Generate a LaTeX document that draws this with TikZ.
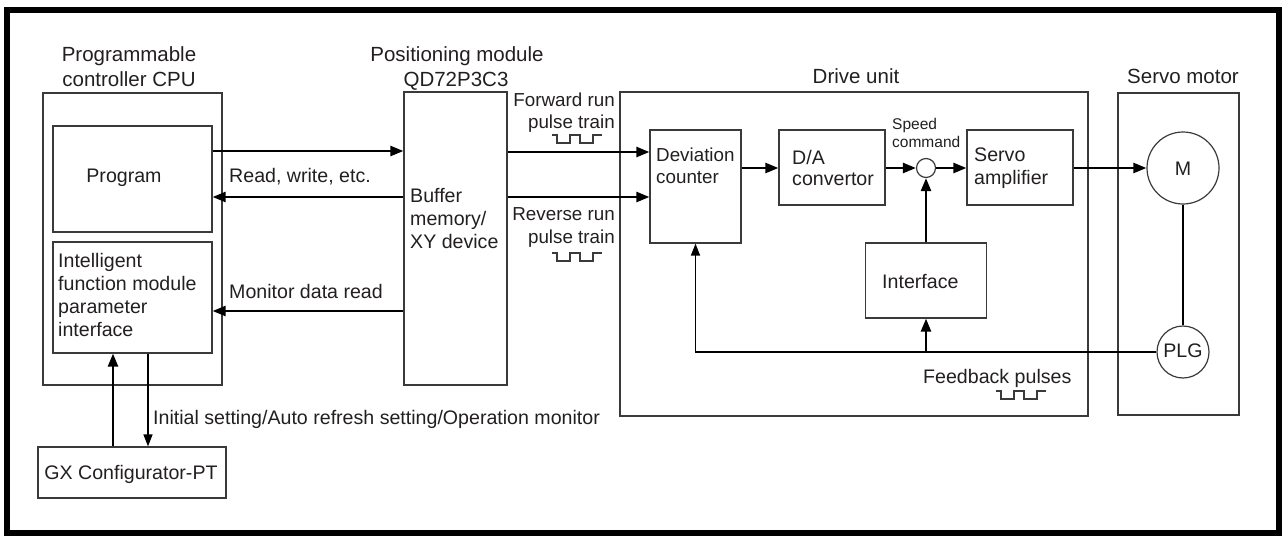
\documentclass[tikz,border=0pt]{standalone}
\usepackage{fontspec}
\setmainfont{Liberation Sans}
\usetikzlibrary{arrows.meta}
\definecolor{ink}{HTML}{231F20}
\definecolor{edge}{HTML}{3A3A3A}
\newcommand\pulsetrain[2]{%
  \draw[edge,line width=1.1pt] (#1,#2) -- ++(5,0) -- ++(0,8) -- ++(13,0) -- ++(0,-8) -- ++(10,0) -- ++(0,8) -- ++(13,0) -- ++(0,-8) -- ++(9,0);}
\begin{document}
\begin{tikzpicture}[x=1pt,y=-1pt,
  box/.style={draw=edge,line width=1.2pt,rectangle,inner sep=0pt},
  circ/.style={draw=edge,line width=1.2pt,circle,inner sep=0pt},
  txt/.style={text=ink,inner sep=0pt,font=\fontsize{19.6}{23}\selectfont,text height=15pt,text depth=3.5pt},
  ntxt/.style={txt,font=\fontsize{18.8}{23}\selectfont},
  ttl/.style={text=ink,inner sep=0pt,font=\fontsize{20.5}{25}\selectfont,text height=16pt,text depth=4pt},
  small/.style={text=ink,inner sep=0pt,font=\fontsize{15.5}{18}\selectfont,text height=12pt,text depth=3pt},
  thickarr/.style={draw=black,line width=2.4pt,-{Triangle[length=13pt,width=10pt]}},
  thinarr/.style={draw=black,line width=1.4pt,-{Triangle[length=12pt,width=9pt]}},
  thickline/.style={draw=black,line width=2.4pt},
  thinline/.style={draw=black,line width=1.4pt}]
\useasboundingbox (0,0) rectangle (1284,538);
\draw[black,line width=6pt] (7,10) rectangle (1279,533);

% level coordinates
\coordinate (y151) at (0,151);
\coordinate (y152) at (0,152);
\coordinate (y197) at (0,197);
\coordinate (y168) at (0,168);
\coordinate (y311) at (0,311);
\coordinate (x113) at (113,0);
\coordinate (x148) at (148,0);

% boxes
\node[box,minimum width=179pt,minimum height=292pt] (cpu) at (132.5,239) {};
\node[box,minimum width=159pt,minimum height=106pt] (prog) at (132.5,179) {};
\node[box,minimum width=159pt,minimum height=111pt] (intel) at (132.5,297.5) {};
\node[box,minimum width=188pt,minimum height=51pt] (gx) at (132,472.5) {};
\node[box,minimum width=103pt,minimum height=293pt] (buf) at (455.5,238.5) {};
\node[box,minimum width=468pt,minimum height=324pt] (drive) at (854,254) {};
\node[box,minimum width=91pt,minimum height=113pt] (dev) at (695.5,186.5) {};
\node[box,minimum width=106pt,minimum height=75pt] (da) at (832,167.5) {};
\node[circ,minimum size=19pt] (sum) at (926,168) {};
\node[box,minimum width=106pt,minimum height=75pt] (amp) at (1020,167.5) {};
\node[box,minimum width=121pt,minimum height=75pt] (intf) at (926,280.5) {};
\node[box,minimum width=121pt,minimum height=322pt] (motor) at (1178.5,254) {};
\node[circ,minimum size=72pt] (M) at (1183,168) {};
\node[circ,minimum size=52pt] (PLG) at (1183,352) {};

% titles
\node[ttl] (t1a) at (129,55) {Programmable};
\node[ttl] (t1b) at (129,80) {controller CPU};
\node[ttl] (t2a) at (457,55) {Positioning module};
\node[ttl] (t2b) at (456,80) {QD72P3C3};
\node[ttl] (t3) at (856,77) {Drive unit};
\node[ttl] (t4) at (1183,77) {Servo motor};

% texts
\node[txt] (lprog) at (124,177) {Program};
\node[txt,anchor=west] (lrw) at (229,177) {Read, write, etc.};
\node[txt,anchor=west] (lmon) at (229,293) {Monitor data read};
\node[txt,anchor=west] (li1) at (58,262) {Intelligent};
\node[txt,anchor=west] (li2) at (58,285) {function module};
\node[txt,anchor=west] (li3) at (58,308) {parameter};
\node[txt,anchor=west] (li4) at (58,331) {interface};
\node[txt,anchor=west] (lb1) at (410,197) {Buffer};
\node[txt,anchor=west] (lb2) at (410,220) {memory/};
\node[txt,anchor=west] (lb3) at (410,243) {XY device};
\node[ntxt,anchor=east] (lf1) at (615,101) {Forward run};
\node[ntxt,anchor=east] (lf2) at (615,123) {pulse train};
\node[ntxt,anchor=east] (lr1) at (615,215) {Reverse run};
\node[ntxt,anchor=east] (lr2) at (615,238) {pulse train};
\node[ntxt,anchor=west] (ld1) at (656,156) {Deviation};
\node[ntxt,anchor=west] (ld2) at (656,178) {counter};
\node[txt,anchor=west] (lda1) at (792,159) {D/A};
\node[txt,anchor=west] (lda2) at (792,180) {convertor};
\node[txt,anchor=west] (la1) at (974,156) {Servo};
\node[txt,anchor=west] (la2) at (974,179) {amplifier};
\node[small,anchor=west] (ls1) at (892,125) {Speed};
\node[small,anchor=west] (ls2) at (892,143) {command};
\node[txt,anchor=west] (lif) at (882,283) {Interface};
\node[txt] (lM) at (1183,170) {M};
\node[txt] (lPLG) at (1183,352) {PLG};
\node[txt,anchor=west] (lfb) at (923,378) {Feedback pulses};
\node[txt,anchor=west] (linit) at (153,419) {Initial setting/Auto refresh setting/Operation monitor};
\node[txt] (lgx) at (131,474) {GX Configurator-PT};

% pulse glyphs
\pulsetrain{552}{135}
\pulsetrain{552}{253}
\pulsetrain{996}{391}

% connectors
\draw[thickarr] (prog.east |- y151) -- (buf.west |- y151);
\draw[thickarr] (buf.west |- y197) -- (prog.east |- y197);
\draw[thickarr] (buf.west |- y311) -- (intel.east |- y311);
\draw[thickarr] (buf.east |- y152) -- (dev.west |- y152);
\draw[thickarr] (buf.east |- y197) -- (dev.west |- y197);
\draw[thickarr] (dev.east |- y168) -- (da.west |- y168);
\draw[thickarr] (da.east |- sum.west) -- (sum.west);
\draw[thickarr] (sum.east) -- (amp.west |- sum.east);
\draw[thickarr] (intf.north -| sum.south) -- (sum.south);
\draw[thickarr] (amp.east |- M.west) -- (M.west);
\draw[thickline] (M.south) -- (PLG.north);
\draw[thinarr] (PLG.west) -- (dev.south |- PLG.west) -- (dev.south);
\draw[thickarr] (intf.south |- PLG.west) -- (intf.south);
\draw[thickarr] (gx.north -| x113) -- (intel.south -| x113);
\draw[thinarr] (intel.south -| x148) -- (gx.north -| x148);
\end{tikzpicture}
\end{document}
